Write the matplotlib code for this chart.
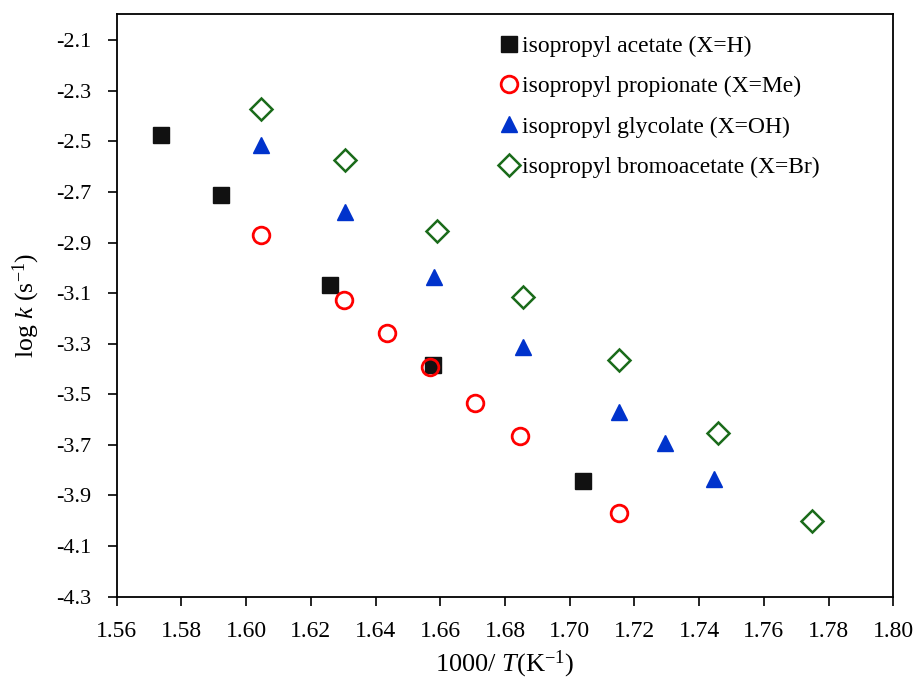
import numpy as np
import matplotlib
matplotlib.use("Agg")
import matplotlib.pyplot as plt

plt.rcParams['font.family'] = ['Liberation Serif', 'DejaVu Serif']
plt.rcParams['mathtext.fontset'] = 'custom'
plt.rcParams['mathtext.rm'] = 'Liberation Serif'
plt.rcParams['mathtext.it'] = 'Liberation Serif:italic'

# data
x_acetate = [1.5736, 1.5922, 1.6260, 1.6577, 1.7041]
y_acetate = [-2.473, -2.711, -3.068, -3.385, -3.842]

x_propionate = [1.6045, 1.6302, 1.6435, 1.6568, 1.6707, 1.6847, 1.7153]
y_propionate = [-2.870, -3.128, -3.259, -3.394, -3.533, -3.663, -3.969]

x_glycolate = [1.6045, 1.6307, 1.6580, 1.6855, 1.7153, 1.7295, 1.7446]
y_glycolate = [-2.515, -2.778, -3.035, -3.313, -3.571, -3.694, -3.837]

x_bromo = [1.6045, 1.6307, 1.6590, 1.6855, 1.7153, 1.7459, 1.7750]
y_bromo = [-2.370, -2.572, -2.854, -3.116, -3.366, -3.652, -4.000]

xticks = np.round(np.arange(1.56, 1.801, 0.02), 2)
yticks = np.round(np.arange(-2.1, -4.31, -0.2), 1)

fig, ax = plt.subplots(figsize=(9.19, 6.81), dpi=100)
fig.subplots_adjust(left=0.127, right=0.972, top=0.979, bottom=0.124)

ax.plot(x_acetate, y_acetate, 's', color='#111111', ms=11, mec='#111111',
        ls='none', label='isopropyl acetate (X=H)')
ax.plot(x_propionate, y_propionate, 'o', mfc='none', mec='#ff0000', mew=2,
        ms=12, ls='none', label='isopropyl propionate (X=Me)')
ax.plot(x_glycolate, y_glycolate, '^', color='#0033cc', ms=12,
        ls='none', label='isopropyl glycolate (X=OH)')
ax.plot(x_bromo, y_bromo, 'D', mfc='none', mec='#1a6b1a', mew=1.8,
        ms=11, ls='none', label='isopropyl bromoacetate (X=Br)')

ax.set_xlim(1.56, 1.80)
ax.set_ylim(-4.3, -1.997)
ax.set_xticks(xticks)
ax.set_xticklabels(['%.2f' % v for v in xticks])
ax.set_yticks(yticks)
ax.set_yticklabels(['%.1f' % v for v in yticks])
ax.tick_params(direction='out', length=6.5, width=1.2, labelsize=16)
ax.tick_params(axis='y', pad=12)
ax.tick_params(axis='x', pad=11, labelsize=17)

for s in ax.spines.values():
    s.set_linewidth(1.3)

ax.set_xlabel('1000/ $T$(K$^{-1}$)', fontsize=19, labelpad=5)
ax.set_ylabel('log $k$ (s$^{-1}$)', fontsize=18.5, labelpad=10)

ax.legend(loc='upper left', frameon=False, fontsize=17, handletextpad=0.05,
          handlelength=1.0, labelspacing=0.8, borderaxespad=0.0,
          bbox_to_anchor=(0.478, 0.98))

fig.savefig('out.png', dpi=100)
